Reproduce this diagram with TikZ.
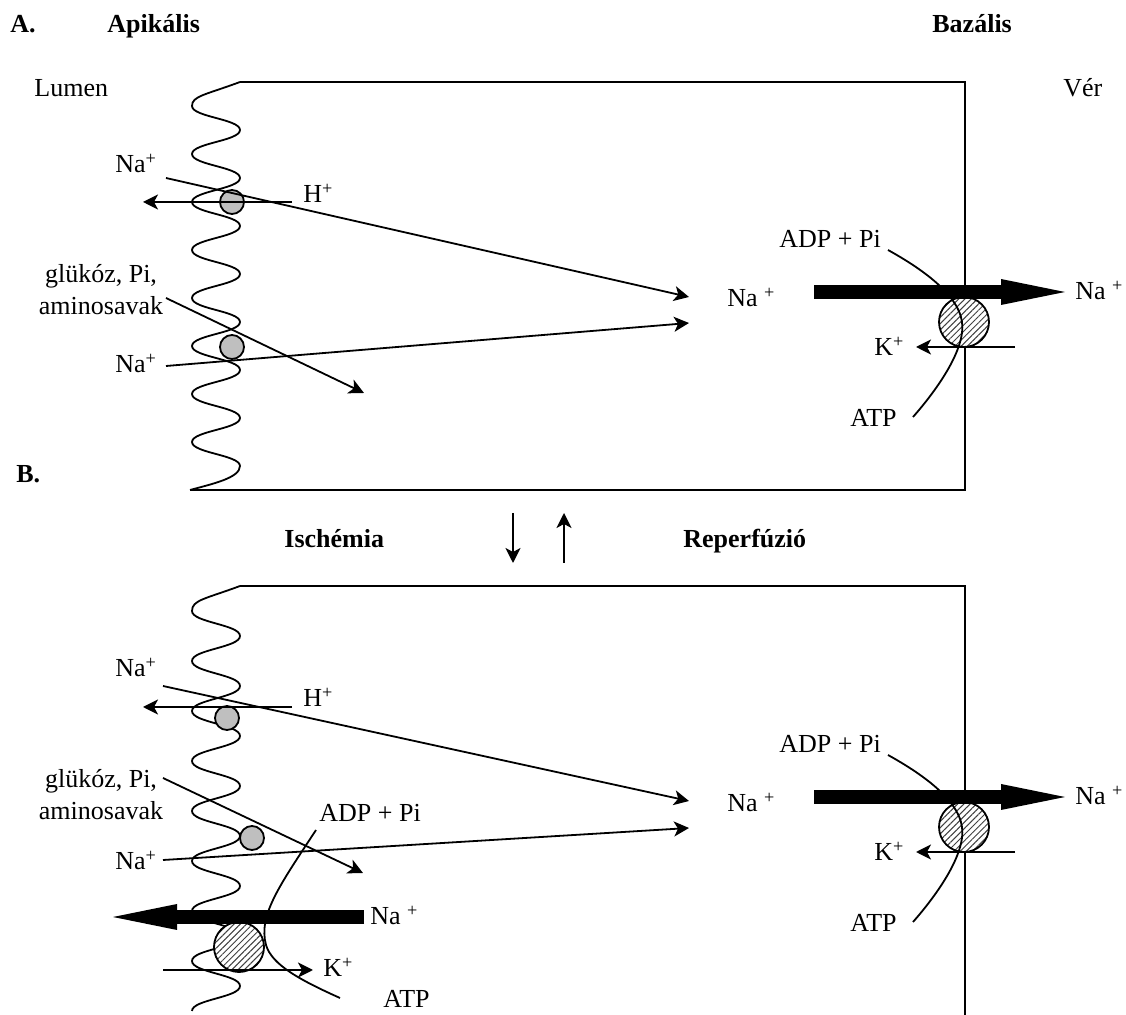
\documentclass[tikz,border=0pt]{standalone}
\usepackage{fontspec}
\setmainfont{Liberation Serif}
\usetikzlibrary{arrows.meta,patterns.meta}

\newcommand\txtsize{\fontsize{13}{16}\selectfont}

\tikzset{
  lbl/.style={inner sep=0pt,font=\txtsize,anchor=base west},
  hd/.style={inner sep=0pt,font=\txtsize\bfseries,anchor=base west},
  wire/.style={line width=0.9pt},
  ion/.style={line width=0.9pt,-{Stealth[length=7.5pt,width=7.5pt,inset=2pt]}},
  bigarr/.style={line width=7pt,-{Triangle[length=32pt,width=13pt,line width=0pt]}},
  carrier/.style={circle,draw,line width=0.9pt,fill=gray!50,minimum size=12pt,inner sep=0pt},
  pump/.style={circle,draw,line width=0.9pt,minimum size=25pt,inner sep=0pt,
    preaction={fill=white},pattern={Lines[angle=45,distance=2.2pt,line width=0.5pt]},
    pattern color=black!75}
}

\begin{document}
\begin{tikzpicture}[x=0.5pt,y=-0.5pt]
\useasboundingbox (0,0) rectangle (1126,1015);

% headings
\node[hd] (ha) at (10,33) {A.};
\node[hd] (hapi) at (107,33) {Apikális};
\node[hd] (hbaz) at (932,33) {Bazális};
\node[hd] (hb) at (16,483) {B.};
\node[lbl] (lumen) at (34,97) {Lumen};
\node[lbl] (ver) at (1063,97) {Vér};
\node[hd] (isch) at (284,548) {Ischémia};
\node[hd] (reperf) at (683,548) {Reperfúzió};

\coordinate (dn1) at (513,513);
\coordinate (dn2) at (513,563);
\coordinate (up1) at (564,563);
\coordinate (up2) at (564,513);
\draw[ion] (dn1) -- (dn2);
\draw[ion] (up1) -- (up2);

% cell A
\draw[wire] (240,82) .. controls (205,95) and (192,96) .. (192,106)
  foreach \k in {0,...,6}{
    .. controls (192,{117+48*\k}) and (240,{119+48*\k}) .. (240,{130+48*\k})
    .. controls (240,{141+48*\k}) and (192,{143+48*\k}) .. (192,{154+48*\k})
  }
  .. controls (192,453) and (240,455) .. (240,466)
  .. controls (240,478) and (212,484) .. (190,490);
\draw[wire] (240,82) -- (965,82) -- (965,490) -- (190,490);

% cell B
\draw[wire] (240,586) .. controls (205,599) and (192,600) .. (192,611)
  foreach \k in {0,...,7}{
    .. controls (192,{622.5+50*\k}) and (240,{624.5+50*\k}) .. (240,{636+50*\k})
    .. controls (240,{647.5+50*\k}) and (192,{649.5+50*\k}) .. (192,{661+50*\k})
  };
\draw[wire] (240,586) -- (965,586) -- (965,1015);

% apical side A
\node[carrier] (nhA) at (232,202) {};
\node[carrier] (sglA) at (232,347) {};
\node[lbl] (na1A) at (115,173) {Na\textsuperscript{+}};
\node[lbl] (hA) at (303,203) {H\textsuperscript{+}};
\node[lbl,anchor=base] (gluA) at (101,283) {glükóz, Pi,};
\node[lbl,anchor=base] (amiA) at (101,315) {aminosavak};
\node[lbl] (na2A) at (115,373) {Na\textsuperscript{+}};
\coordinate (n1sA) at (166,178);
\coordinate (n1eA) at (689,297);
\coordinate (hsA) at (292,202);
\coordinate (heA) at (143,202);
\coordinate (gsA) at (166,298);
\coordinate (geA) at (364,393);
\coordinate (n2sA) at (166,366);
\coordinate (n2eA) at (689,323);
\draw[ion] (n1sA) -- (n1eA);
\draw[ion] (hsA) -- (heA);
\draw[ion] (gsA) -- (geA);
\draw[ion] (n2sA) -- (n2eA);

% apical side B
\node[carrier] (nhB) at (227,718) {};
\node[carrier] (sglB) at (252,838) {};
\node[pump] (nakL) at (239,947) {};
\node[lbl] (na1B) at (115,677) {Na\textsuperscript{+}};
\node[lbl] (hB) at (303,707) {H\textsuperscript{+}};
\node[lbl,anchor=base] (gluB) at (101,788) {glükóz, Pi,};
\node[lbl,anchor=base] (amiB) at (101,820) {aminosavak};
\node[lbl] (na2B) at (115,870) {Na\textsuperscript{+}};
\node[lbl] (naL) at (370,925) {Na \textsuperscript{+}};
\node[lbl] (kL) at (323,977) {K\textsuperscript{+}};
\node[lbl] (adpL) at (319,822) {ADP + Pi};
\node[lbl] (atpL) at (383,1008) {ATP};
\coordinate (n1sB) at (163,686);
\coordinate (n1eB) at (689,801);
\coordinate (hsB) at (292,707);
\coordinate (heB) at (143,707);
\coordinate (gsB) at (163,778);
\coordinate (geB) at (363,873);
\coordinate (n2sB) at (163,860);
\coordinate (n2eB) at (689,828);
\coordinate (bigLs) at (364,917);
\coordinate (bigLe) at (113,917);
\coordinate (kLs) at (163,970);
\coordinate (kLe) at (313,970);
\draw[ion] (n1sB) -- (n1eB);
\draw[ion] (hsB) -- (heB);
\draw[ion] (gsB) -- (geB);
\draw[ion] (n2sB) -- (n2eB);
\draw[bigarr] (bigLs) -- (bigLe);
\draw[ion] (kLs) -- (kLe);
\draw[wire] (316,830) .. controls (280,885) and (258,915) .. (266,945)
  .. controls (272,965) and (300,980) .. (340,998);

% basal pump, both panels
\foreach \p/\dy in {A/0,B/505}{
\begin{scope}[shift={(0,\dy)}]
  \node[pump] (nak\p) at (964,322) {};
  \node[lbl] (nain\p) at (727,307) {Na \textsuperscript{+}};
  \node[lbl] (naout\p) at (1075,300) {Na \textsuperscript{+}};
  \node[lbl] (k\p) at (874,356) {K\textsuperscript{+}};
  \node[lbl] (adp\p) at (779,248) {ADP + Pi};
  \node[lbl] (atp\p) at (850,427) {ATP};
  \coordinate (bigs\p) at (814,292);
  \coordinate (bige\p) at (1065,292);
  \coordinate (ks\p) at (1015,347);
  \coordinate (ke\p) at (916,347);
  \draw[bigarr] (bigs\p) -- (bige\p);
  \draw[ion] (ks\p) -- (ke\p);
  \draw[wire] (888,250) .. controls (915,265) and (958,292) .. (962,322)
    .. controls (966,350) and (935,392) .. (913,417);
\end{scope}
}
\end{tikzpicture}
\end{document}
